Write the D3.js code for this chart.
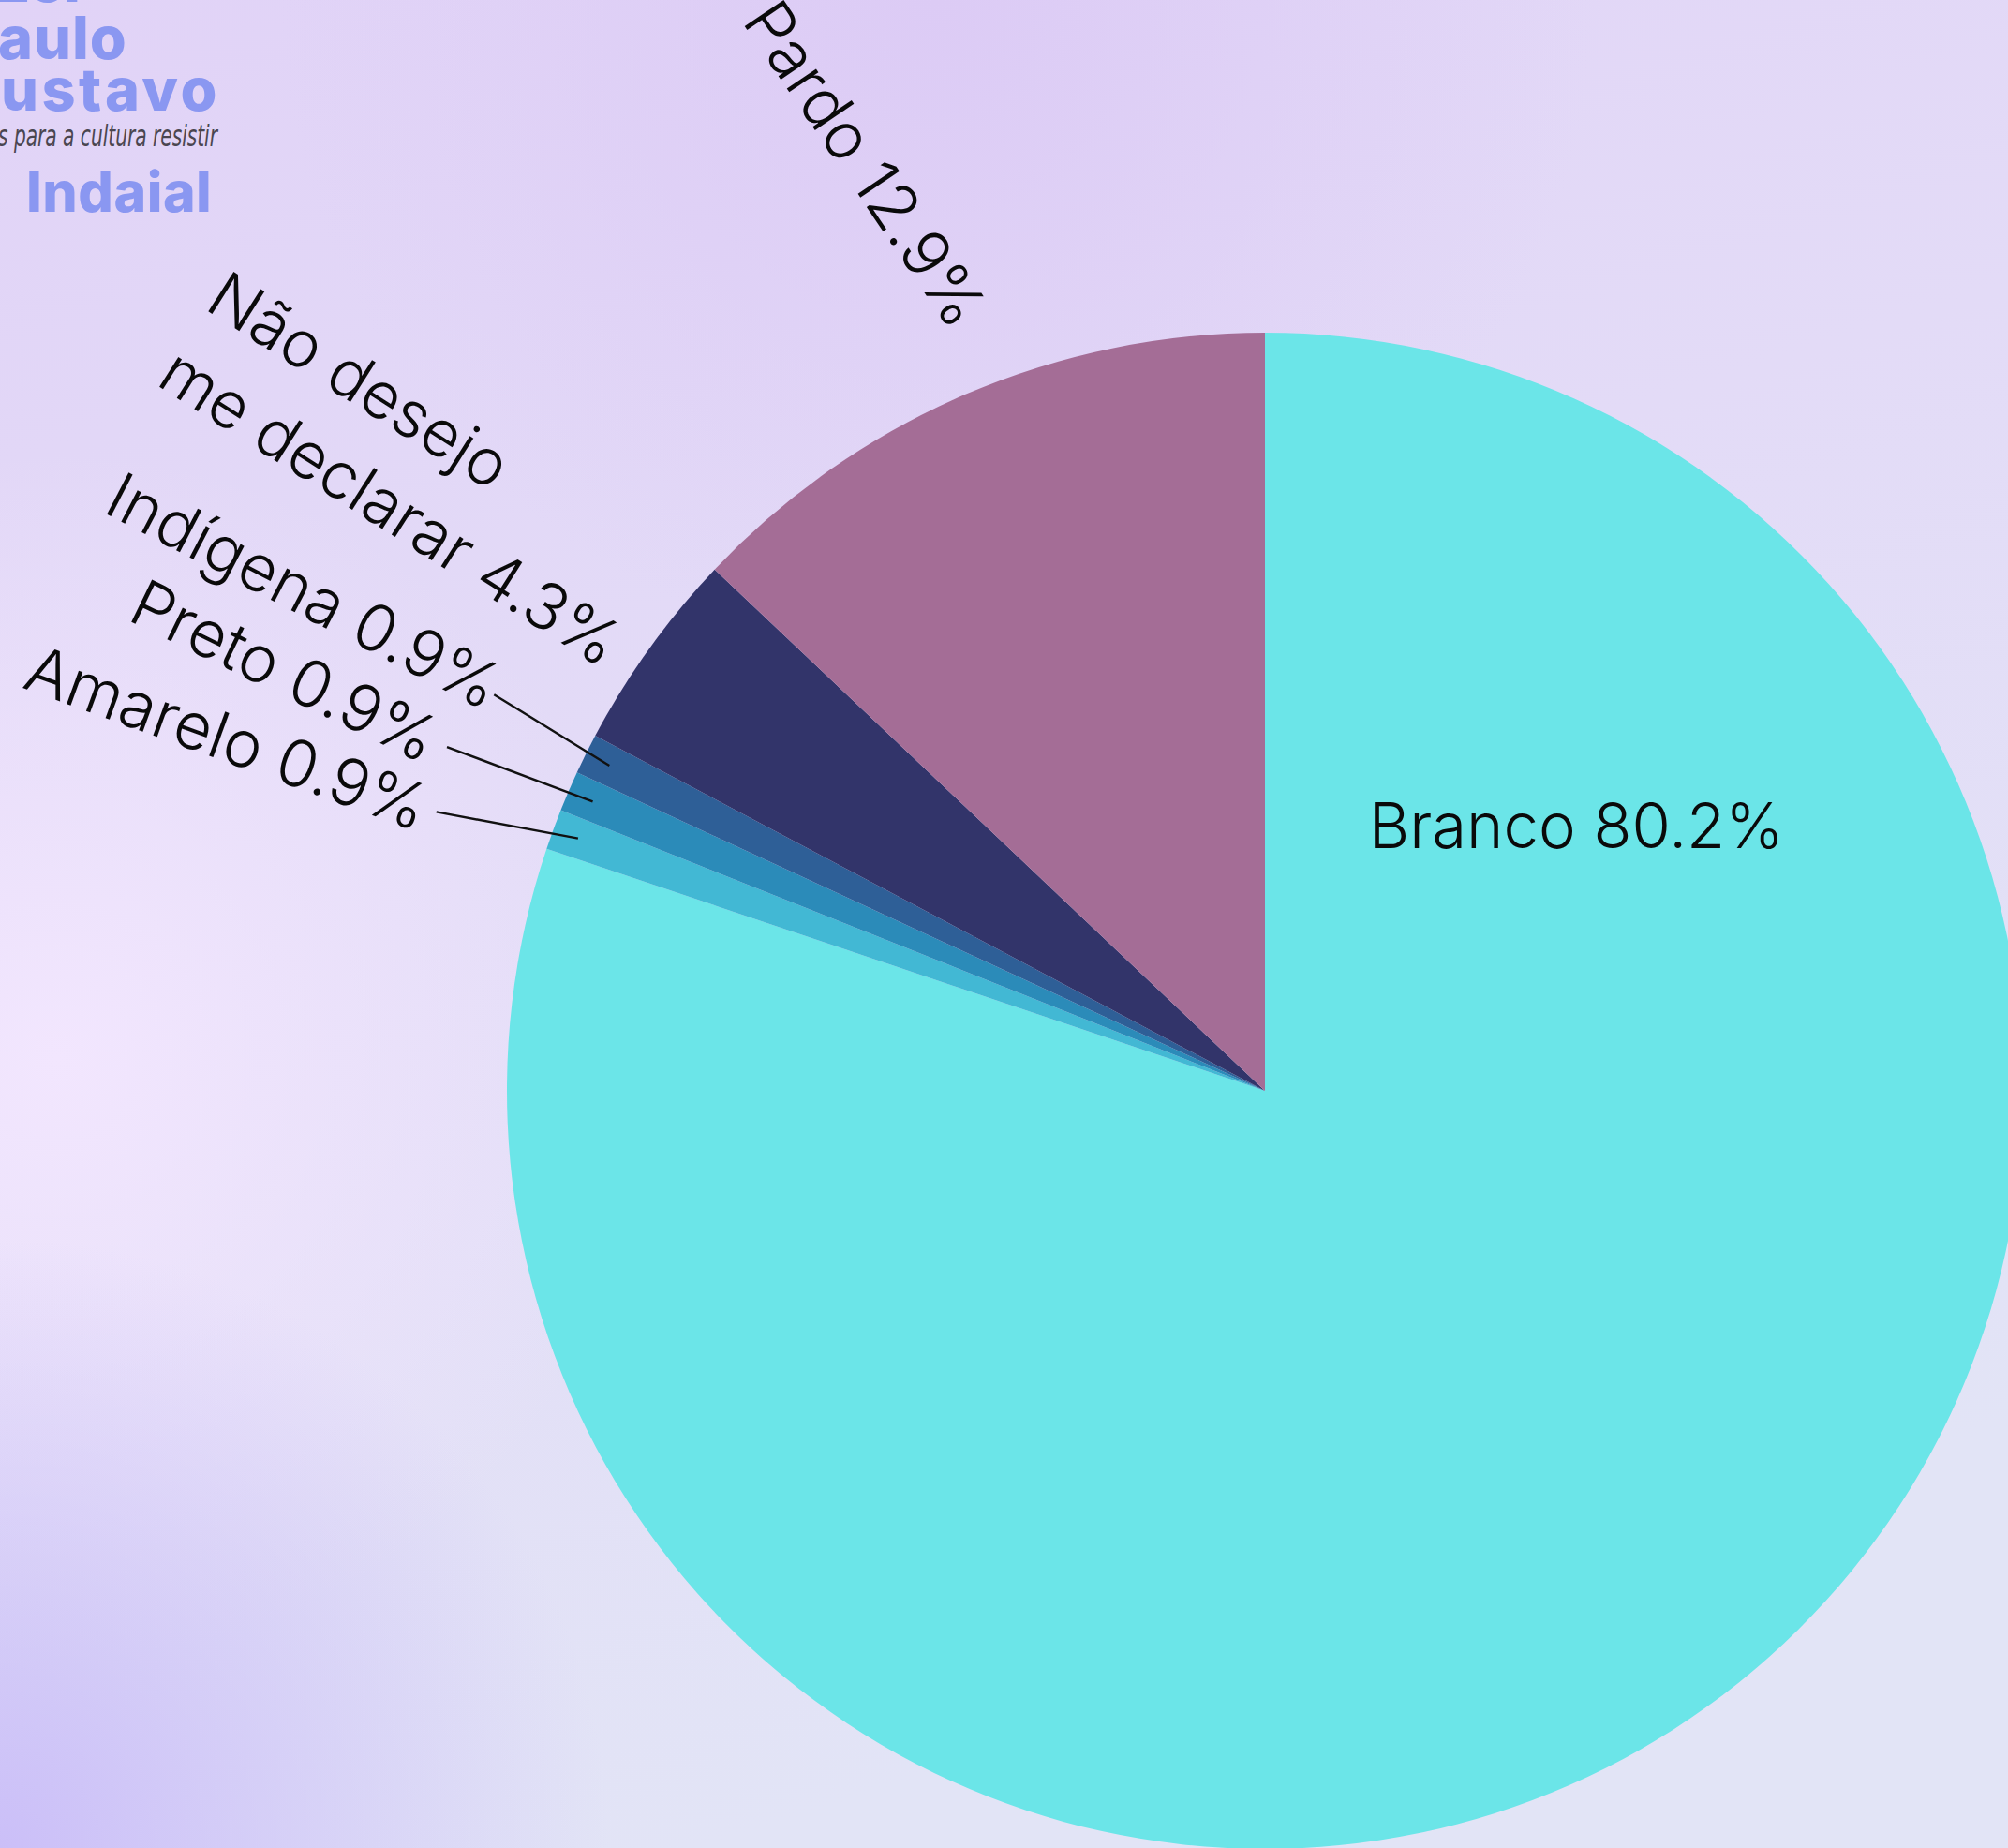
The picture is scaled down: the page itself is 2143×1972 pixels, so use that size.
<!DOCTYPE html>
<html>
<head>
<meta charset="utf-8">
<script src="https://cdn.jsdelivr.net/npm/d3@7"></script>
<style>
  html, body { margin: 0; padding: 0; background: #e2d8f6; }
  svg { display: block; }
</style>
</head>
<body>
<div id="chart"></div>
<script>
// data: number of respondents per declared race/colour
var categories = ["Branco", "Amarelo", "Preto", "Indígena", "Não desejo me declarar", "Pardo"];
var counts = [93, 1, 1, 1, 5, 15];
var percentLabels = ["80.2%", "0.9%", "0.9%", "0.9%", "4.3%", "12.9%"];
var labelLines = [["Branco"], ["Amarelo"], ["Preto"], ["Indígena"], ["Não desejo", "me declarar"], ["Pardo"]];
var sliceColors = ["#6be5e8", "#42b8d4", "#2b8bb9", "#2e5f97", "#32346a", "#a46d96"];

var width = 2143, height = 1972;
var cx = 1350, cy = 1164, radius = 809;

// label placement (angle in degrees clockwise from 12 o'clock, distance from centre, rotation)
var labelLayout = [
  { angle: 49.5, r: 437, rot: 0, inside: true },
  { angle: 288.8, r: 1170, rot: 20, line: { angle: 288.6, r: 933 } },
  { angle: 293.2, r: 1138, rot: 26, line: { angle: 292.8, r: 947 } },
  { angle: 297.5, r: 1156, rot: 27.5, line: { angle: 297.2, r: 925 } },
  { angle: 306.2, r: 1124, rot: 32.5 },
  { angle: 336.7, r: 1077, rot: 56 }
];

var svg = d3.select("#chart").append("svg")
  .attr("width", width)
  .attr("height", height);

var defs = svg.append("defs");

var base = defs.append("linearGradient").attr("id", "bgBase")
  .attr("x1", 0).attr("y1", 0).attr("x2", 0.35).attr("y2", 1);
base.append("stop").attr("offset", "0%").attr("stop-color", "#e1d3f7");
base.append("stop").attr("offset", "45%").attr("stop-color", "#e3dbf7");
base.append("stop").attr("offset", "100%").attr("stop-color", "#e2e4f6");

var pinkGlow = defs.append("radialGradient").attr("id", "pinkGlow")
  .attr("gradientUnits", "userSpaceOnUse")
  .attr("cx", 60).attr("cy", 1130).attr("r", 650);
pinkGlow.append("stop").attr("offset", "0%").attr("stop-color", "#f2e6fe").attr("stop-opacity", 1);
pinkGlow.append("stop").attr("offset", "100%").attr("stop-color", "#f2e6fe").attr("stop-opacity", 0);

var purpleGlow = defs.append("radialGradient").attr("id", "purpleGlow")
  .attr("gradientUnits", "userSpaceOnUse")
  .attr("cx", 0).attr("cy", 1972).attr("r", 650);
purpleGlow.append("stop").attr("offset", "0%").attr("stop-color", "#cbbff8").attr("stop-opacity", 1);
purpleGlow.append("stop").attr("offset", "100%").attr("stop-color", "#cbbff8").attr("stop-opacity", 0);

var topGlow = defs.append("radialGradient").attr("id", "topGlow")
  .attr("gradientUnits", "userSpaceOnUse")
  .attr("cx", 1000).attr("cy", 0).attr("r", 700);
topGlow.append("stop").attr("offset", "0%").attr("stop-color", "#dccbf5").attr("stop-opacity", 1);
topGlow.append("stop").attr("offset", "100%").attr("stop-color", "#dccbf5").attr("stop-opacity", 0);

svg.append("rect").attr("width", width).attr("height", height).attr("fill", "url(#bgBase)");
svg.append("rect").attr("width", width).attr("height", height).attr("fill", "url(#topGlow)");
svg.append("rect").attr("width", width).attr("height", height).attr("fill", "url(#pinkGlow)");
svg.append("rect").attr("width", width).attr("height", height).attr("fill", "url(#purpleGlow)");

// logo in the top-left corner (partly cut off by the frame)
var logo = svg.append("g").attr("class", "logo")
  .style("font-family", "Inter, 'Open Sans', sans-serif")
  .style("font-weight", 800)
  .attr("fill", "#8a97f1");
logo.append("text").attr("x", -4).attr("y", 2).style("font-size", "62px").text("Lei");
logo.append("text").attr("x", -43).attr("y", 63).style("font-size", "63px").style("letter-spacing", "1px").text("Paulo");
logo.append("text").attr("x", -50).attr("y", 118).style("font-size", "63px").style("letter-spacing", "3.5px").text("Gustavo");
logo.append("text")
  .attr("transform", "translate(232,156) scale(0.7,1)")
  .attr("text-anchor", "end")
  .attr("fill", "#4a4650")
  .style("font-family", "'DejaVu Sans Condensed', 'DejaVu Sans', sans-serif")
  .style("font-weight", 400)
  .style("font-style", "italic")
  .style("font-size", "32px")
  .text("recursos para a cultura resistir");
logo.append("text").attr("x", 28).attr("y", 226).style("font-size", "59px").style("letter-spacing", "0.5px").text("Indaial");

// pie
var data = categories.map(function (c, i) {
  return { name: c, value: counts[i], pct: percentLabels[i], lines: labelLines[i], color: sliceColors[i], layout: labelLayout[i] };
});

var pie = d3.pie().sort(null).value(function (d) { return d.value; });
var arc = d3.arc().innerRadius(0).outerRadius(radius);
var arcs = pie(data);

var g = svg.append("g").attr("transform", "translate(" + cx + "," + cy + ")");

g.selectAll("path.slice")
  .data(arcs)
  .enter()
  .append("path")
  .attr("class", "slice")
  .attr("d", arc)
  .attr("fill", function (d) { return d.data.color; });

function polar(angleDeg, r) {
  var a = angleDeg * Math.PI / 180;
  return [r * Math.sin(a), -r * Math.cos(a)];
}

// leader lines for the thin slices
g.selectAll("line.leader")
  .data(arcs.filter(function (d) { return d.data.layout.line; }))
  .enter()
  .append("line")
  .attr("class", "leader")
  .attr("x1", function (d) { return polar(d.data.layout.line.angle, d.data.layout.line.r)[0]; })
  .attr("y1", function (d) { return polar(d.data.layout.line.angle, d.data.layout.line.r)[1]; })
  .attr("x2", function (d) { return polar((d.startAngle + d.endAngle) / 2 * 180 / Math.PI, radius - 28)[0]; })
  .attr("y2", function (d) { return polar((d.startAngle + d.endAngle) / 2 * 180 / Math.PI, radius - 28)[1]; })
  .attr("stroke", "#111")
  .attr("stroke-width", 2.4);

// labels
var labels = g.selectAll("g.label")
  .data(arcs)
  .enter()
  .append("g")
  .attr("class", "label")
  .attr("transform", function (d) {
    var p = polar(d.data.layout.angle, d.data.layout.r);
    return "translate(" + p[0] + "," + p[1] + ") rotate(" + d.data.layout.rot + ")";
  });

var lineHeight = 96;
labels.each(function (d) {
  var sel = d3.select(this);
  var lines = d.data.lines.slice();
  lines[lines.length - 1] = lines[lines.length - 1] + " " + d.data.pct;
  var t = sel.append("text")
    .style("font-family", "Inter, Lato, sans-serif")
    .style("font-weight", 300)
    .style("font-size", d.data.layout.inside ? "67px" : "69px")
    .attr("fill", "#0a0a0a");
  var n = lines.length;
  var spans = lines.map(function (line, i) {
    return t.append("tspan")
      .attr("x", 0)
      .attr("y", (i - (n - 1) / 2) * lineHeight + 25)
      .text(line);
  });
  if (n === 1) {
    t.attr("text-anchor", "middle");
  } else {
    // multi-line labels are left aligned inside the block
    var maxW = d3.max(spans, function (s) { return s.node().getComputedTextLength(); });
    spans.forEach(function (s) { s.attr("x", -maxW / 2); });
  }
});
</script>
</body>
</html>
